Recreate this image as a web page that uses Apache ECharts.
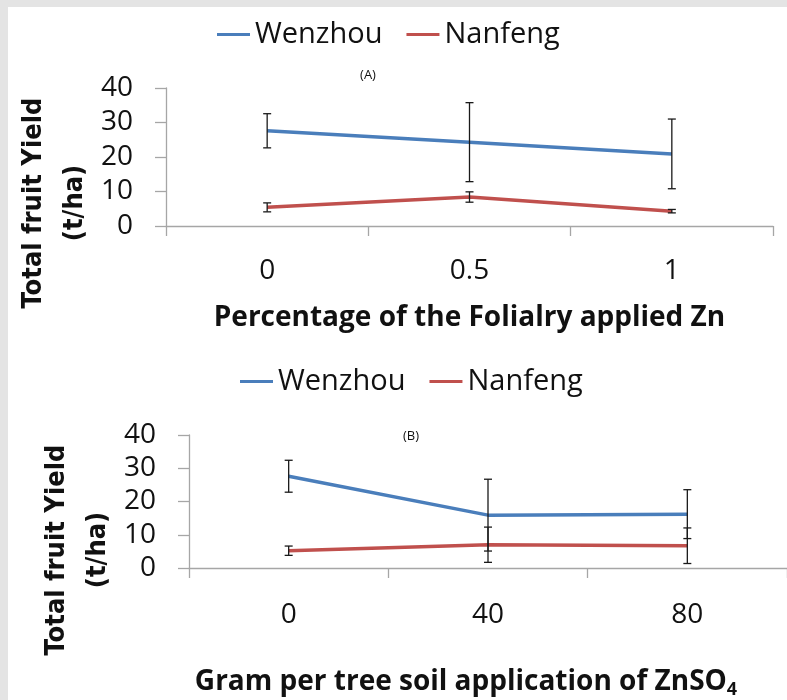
<!DOCTYPE html>
<html><head><meta charset="utf-8">
<script src="https://cdn.jsdelivr.net/npm/echarts@6/dist/echarts.min.js"></script>
<style>
body{margin:0;background:#e4e4e4;}
#bg{position:absolute;left:8px;top:7px;width:779px;height:693px;background:#fff;}
#chart{position:absolute;left:0;top:0;width:787px;height:700px;}
</style>
</head><body><div id="bg"></div><div id="chart"></div>
<script>
// ---- data ----
const seriesNames = ['Wenzhou', 'Nanfeng'];
const catsA = ['0', '0.5', '1'];
const wenzhouA = [27.6, 24.3, 20.9];
const wenzhouAErr = [4.95, 11.45, 10.1];
const nanfengA = [5.4, 8.4, 4.3];
const nanfengAErr = [1.3, 1.5, 0.5];
const catsB = ['0', '40', '80'];
const wenzhouB = [27.6, 15.9, 16.2];
const wenzhouBErr = [4.8, 10.8, 7.35];
const nanfengB = [5.2, 7.0, 6.7];
const nanfengBErr = [1.4, 5.3, 5.35];
const yMin = 0, yMax = 40, yStep = 10;
const titleA = '(A)', titleB = '(B)';
const xNameA = 'Percentage of the Folialry applied Zn';
const xNameB = 'Gram per tree soil application of ZnSO';
const xNameBSub = '4';
const yNameLines = ['Total fruit Yield', '(t/ha)'];

// ---- styling ----
const BLUE = '#4a7ebb', RED = '#c0504d', AXIS = '#a6a6a6';
const FONT = '"Open Sans", "Liberation Sans", sans-serif';
const YFONT = '"DejaVu Sans Condensed", "DejaVu Sans", sans-serif';

function errData(vals, errs) { return vals.map((v, i) => [i, v - errs[i], v + errs[i]]); }
function errRender(params, api) {
  const x = api.value(0);
  const lo = api.coord([x, api.value(1)]);
  const hi = api.coord([x, api.value(2)]);
  const hw = 4;
  const st = () => ({ stroke: '#1a1a1a', lineWidth: 1.3, fill: null });
  return { type: 'group', children: [
    { type: 'line', shape: { x1: lo[0], y1: lo[1], x2: hi[0], y2: hi[1] }, style: st() },
    { type: 'line', shape: { x1: lo[0] - hw, y1: lo[1], x2: lo[0] + hw, y2: lo[1] }, style: st() },
    { type: 'line', shape: { x1: hi[0] - hw, y1: hi[1], x2: hi[0] + hw, y2: hi[1] }, style: st() }
  ]};
}
function yAxisCfg(gi) {
  return {
    gridIndex: gi, type: 'value', min: yMin, max: yMax, interval: yStep,
    axisLine: { show: true, lineStyle: { color: AXIS, width: 1.3 } },
    axisTick: { show: true, length: 11, lineStyle: { color: AXIS, width: 1.3 } },
    splitLine: { show: false },
    axisLabel: { margin: 33, fontFamily: FONT, fontSize: 28, color: '#111' }
  };
}
function xAxisCfg(gi, cats, name, nameGap, rich, padding, margin) {
  return {
    gridIndex: gi, type: 'category', data: cats, boundaryGap: true,
    axisLine: { show: true, lineStyle: { color: AXIS, width: 1.3 } },
    axisTick: { show: true, length: 10, lineStyle: { color: AXIS, width: 1.3 } },
    axisLabel: { margin: margin, fontFamily: FONT, fontSize: 28, color: '#111', lineHeight: 28 },
    name: name, nameLocation: 'middle', nameGap: nameGap,
    nameTextStyle: { fontFamily: FONT, fontWeight: 'bold', fontSize: 28, color: '#111', rich: rich, padding: padding }
  };
}
function lineSeries(name, gi, data, color) {
  return { name: name, type: 'line', xAxisIndex: gi, yAxisIndex: gi, data: data, symbol: 'none',
    lineStyle: { color: color, width: 3.5 }, itemStyle: { color: color }, z: 2, animation: false };
}
function errSeries(gi, vals, errs) {
  return { type: 'custom', xAxisIndex: gi, yAxisIndex: gi, renderItem: errRender,
    data: errData(vals, errs), encode: { x: 0, y: [1, 2] }, z: 5, silent: true, animation: false };
}
const legendBase = { icon: 'rect', itemWidth: 33, itemHeight: 3, itemGap: 24,
  textStyle: { fontFamily: FONT, fontSize: 29, color: '#111' } };

const chart = echarts.init(document.getElementById('chart'));
chart.setOption({
  animation: false,
  legend: [
    Object.assign({ data: seriesNames, left: 212, top: 15 }, legendBase),
    Object.assign({ data: seriesNames, left: 235, top: 362 }, legendBase)
  ],
  grid: [
    { left: 166, right: 14, top: 88, bottom: 474 },
    { left: 189, right: -10, top: 435, bottom: 129 }
  ],
  xAxis: [
    xAxisCfg(0, catsA, xNameA, 78, undefined, undefined, 31),
    xAxisCfg(1, catsB, '{a|' + xNameB + '}{s|' + xNameBSub + '}', 97,
      { a: { fontFamily: FONT, fontWeight: 'bold', fontSize: 28, color: '#111' },
        s: { fontFamily: FONT, fontWeight: 'bold', fontSize: 18, color: '#111', padding: [16, 0, 0, 0] } },
      [0, 44, 0, 0], 33)
  ],
  yAxis: [yAxisCfg(0), yAxisCfg(1)],
  graphic: [
    { type: 'text', x: 368, y: 75, style: { text: titleA, font: '13px ' + FONT, fill: '#111', align: 'center', verticalAlign: 'middle' } },
    { type: 'text', x: 411, y: 436, style: { text: titleB, font: '13px ' + FONT, fill: '#111', align: 'center', verticalAlign: 'middle' } },
    { type: 'text', x: 54, y: 203, rotation: Math.PI / 2,
      style: { text: yNameLines.join('\n'), font: 'bold 27px ' + YFONT, lineHeight: 41, fill: '#111', align: 'center', verticalAlign: 'middle' } },
    { type: 'text', x: 77, y: 550, rotation: Math.PI / 2,
      style: { text: yNameLines.join('\n'), font: 'bold 27px ' + YFONT, lineHeight: 41, fill: '#111', align: 'center', verticalAlign: 'middle' } }
  ],
  series: [
    lineSeries('Wenzhou', 0, wenzhouA, BLUE),
    lineSeries('Nanfeng', 0, nanfengA, RED),
    lineSeries('Wenzhou', 1, wenzhouB, BLUE),
    lineSeries('Nanfeng', 1, nanfengB, RED),
    errSeries(0, wenzhouA, wenzhouAErr),
    errSeries(0, nanfengA, nanfengAErr),
    errSeries(1, wenzhouB, wenzhouBErr),
    errSeries(1, nanfengB, nanfengBErr)
  ]
});
</script>
</body></html>
